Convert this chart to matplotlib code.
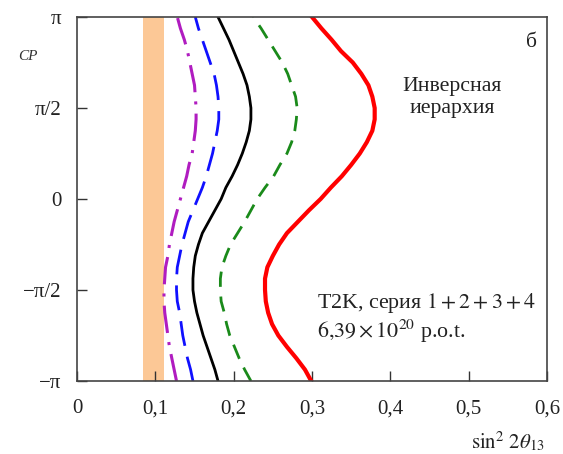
import numpy as np
import matplotlib
matplotlib.use("Agg")
import matplotlib.pyplot as plt

plt.rcParams["font.family"] = ["Liberation Serif", "DejaVu Serif"]
plt.rcParams["mathtext.fontset"] = "stix"

# delta_CP grid in units of pi (steps of pi/16)
dcp_pi = [-1, -15/16, -14/16, -13/16, -12/16, -11/16, -10/16, -9/16, -8/16,
          -7/16, -6/16, -5/16, -4/16, -3/16, -2/16, -1/16, 0,
          1/16, 2/16, 3/16, 4/16, 5/16, 6/16, 7/16, 8/16,
          9/16, 10/16, 11/16, 12/16, 13/16, 14/16, 15/16, 1]

# sin^2 2theta13 boundaries
magenta = [0.127, 0.124, 0.121, 0.118, 0.116, 0.114, 0.112, 0.111, 0.111,
           0.112, 0.113, 0.116, 0.118, 0.121, 0.124, 0.128, 0.132,
           0.136, 0.140, 0.143, 0.147, 0.149, 0.151, 0.152, 0.152,
           0.151, 0.150, 0.147, 0.144, 0.141, 0.137, 0.132, 0.128]
blue = [0.148, 0.145, 0.141, 0.138, 0.135, 0.133, 0.131, 0.128, 0.127,
        0.127, 0.128, 0.131, 0.134, 0.138, 0.142, 0.148, 0.154,
        0.160, 0.165, 0.169, 0.173, 0.176, 0.179, 0.181, 0.181,
        0.180, 0.178, 0.175, 0.170, 0.165, 0.160, 0.155, 0.151]
black = [0.180, 0.176, 0.171, 0.166, 0.161, 0.157, 0.153, 0.150, 0.148,
         0.148, 0.149, 0.151, 0.155, 0.160, 0.168, 0.176, 0.184,
         0.190, 0.198, 0.205, 0.211, 0.216, 0.220, 0.222, 0.222,
         0.220, 0.217, 0.212, 0.206, 0.200, 0.194, 0.187, 0.180]
green = [0.222, 0.214, 0.207, 0.201, 0.195, 0.191, 0.188, 0.184, 0.183,
         0.183, 0.185, 0.190, 0.196, 0.205, 0.214, 0.222, 0.230,
         0.240, 0.251, 0.259, 0.268, 0.274, 0.278, 0.280, 0.281,
         0.279, 0.274, 0.269, 0.262, 0.253, 0.244, 0.235, 0.225]
red = [0.299, 0.291, 0.280, 0.268, 0.257, 0.249, 0.244, 0.241, 0.240,
       0.240, 0.243, 0.250, 0.258, 0.268, 0.282, 0.296, 0.311,
       0.324, 0.338, 0.350, 0.361, 0.370, 0.377, 0.380, 0.380,
       0.377, 0.372, 0.363, 0.352, 0.337, 0.325, 0.312, 0.300]

# reactor band
band = (0.084, 0.111)

x_ticks = [0, 0.1, 0.2, 0.3, 0.4, 0.5, 0.6]
x_labels = ["0", "0,1", "0,2", "0,3", "0,4", "0,5", "0,6"]
y_ticks_pi = [-1, -0.5, 0, 0.5, 1]
y_labels = ["\u2212\u03c0", "\u2212\u03c0/2", "0", "\u03c0/2", "\u03c0"]

fig = plt.figure(figsize=(5.63, 4.54), dpi=100)
ax = fig.add_axes([0.1368, 0.1608, 0.8348, 0.8018])

dcp = np.array(dcp_pi) * np.pi

ax.axvspan(band[0], band[1], color="#fcc896", lw=0, zorder=1)
ax.plot(magenta, dcp, color="#b01cc0", lw=2.2, dashes=(9, 3, 1, 3), zorder=3)
ax.plot(blue, dcp, color="#1010ff", lw=2.0, dashes=(9, 4), zorder=3)
ax.plot(black, dcp, color="black", lw=2.0, zorder=3)
ax.plot(green, dcp, color="#1a8a1a", lw=2.0, dashes=(5.5, 3.5), zorder=3)
ax.plot(red, dcp, color="#ff0000", lw=3.0, zorder=3)

ax.set_xlim(0, 0.6)
ax.set_ylim(-np.pi, np.pi)
ax.set_xticks(x_ticks)
ax.set_xticklabels(x_labels)
ax.set_yticks(np.array(y_ticks_pi) * np.pi)
ax.set_yticklabels(y_labels)
ax.tick_params(direction="in", length=7.5, width=1.0, labelsize=15,
               colors="#333333", labelcolor="#222222",
               top=False, right=False)
ax.tick_params(axis="x", pad=13)
ax.tick_params(axis="y", pad=11)
for s in ax.spines.values():
    s.set_color("#444444")
    s.set_linewidth(1.2)
    s.set_zorder(5)
ax.set_axisbelow(False)

ax.text(0.979, 0.931, "б", transform=ax.transAxes, ha="right", va="center",
        fontsize=15.5, color="#222222")
ax.text(0.798, 0.779, "Инверсная\nиерархия", transform=ax.transAxes,
        ha="center", va="center", fontsize=15.7, linespacing=1.2,
        color="#222222")
ax.text(0.511, 0.214, "T2K, серия $1+2+3+4$", transform=ax.transAxes,
        ha="left", va="center", fontsize=15.8, color="#222222")
ax.text(0.511, 0.135, "$6{,}39\\times10^{20}$ p.o.t.", transform=ax.transAxes,
        ha="left", va="center", fontsize=15.8, color="#222222")

fig.text(0.968, 0.027, "$\\sin^2\\,2\\theta_{13}$", ha="right", va="center",
         fontsize=15, color="#222222")
fig.text(0.032, 0.876, "CP", ha="left", va="center", fontsize=11,
         style="italic", color="#333333")

fig.savefig("out.png", dpi=100)
